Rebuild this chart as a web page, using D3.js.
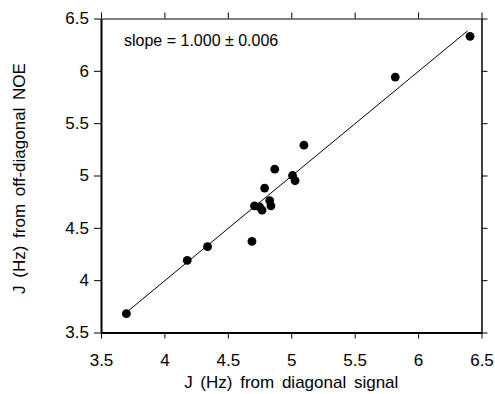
<!DOCTYPE html>
<html><head><meta charset="utf-8">
<script src="https://cdn.jsdelivr.net/npm/d3@7"></script>
<style>body{margin:0;background:#fff}svg{display:block}text{font-family:"Liberation Sans",Arial,sans-serif;fill:#000}</style>
</head><body><svg id="c" width="495" height="394"></svg>
<script>
// Data
const xDiag = [3.70, 4.18, 4.34, 4.69, 4.71, 4.75, 4.77, 4.79, 4.83, 4.84, 4.87, 5.01, 5.03, 5.10, 5.82, 6.41];
const yNoe  = [3.68, 4.19, 4.32, 4.37, 4.71, 4.70, 4.67, 4.88, 4.76, 4.71, 5.06, 5.00, 4.95, 5.29, 5.94, 6.33];
const fitSlope = 1.000, fitIntercept = -0.008;
const fitRange = [3.70, 6.39];
const xTicks = [3.5, 4, 4.5, 5, 5.5, 6, 6.5];
const yTicks = [3.5, 4, 4.5, 5, 5.5, 6, 6.5];
const annotation = "slope = 1.000 \u00b1 0.006";
const xTitle = "J (Hz) from diagonal signal";
const yTitle = "J (Hz) from off-diagonal NOE";

const svg = d3.select("#c");
const L = 101, R = 481.5, T = 18.5, B = 332.5;
const x = d3.scaleLinear().domain([3.5, 6.5]).range([L, R]);
const y = d3.scaleLinear().domain([3.5, 6.5]).range([B, T]);
const fmt = d => String(d);

function styleAxis(g, w) {
  g.select(".domain").attr("stroke", "#000").attr("stroke-width", w);
  g.selectAll(".tick line").attr("stroke", "#000").attr("stroke-width", 1);
  g.selectAll(".tick text").style("font-size", "17px").attr("fill", "#000");
}
svg.append("g").attr("transform", `translate(0,${B})`)
  .call(d3.axisBottom(x).tickValues(xTicks).tickFormat(fmt).tickSize(6).tickSizeOuter(0).tickPadding(15))
  .call(g => styleAxis(g, 2));
svg.append("g").attr("transform", `translate(0,${T})`)
  .call(d3.axisTop(x).tickValues(xTicks).tickFormat("").tickSize(6).tickSizeOuter(0))
  .call(g => styleAxis(g, 1.2));
svg.append("g").attr("transform", `translate(${L},0)`)
  .call(d3.axisLeft(y).tickValues(yTicks).tickFormat(fmt).tickSize(7).tickSizeOuter(0).tickPadding(5))
  .call(g => styleAxis(g, 2));
svg.append("g").attr("transform", `translate(${R},0)`)
  .call(d3.axisRight(y).tickValues(yTicks).tickFormat("").tickSize(6).tickSizeOuter(0))
  .call(g => styleAxis(g, 1.5));

// fit line
svg.append("line")
  .attr("x1", x(fitRange[0])).attr("y1", y(fitSlope * fitRange[0] + fitIntercept))
  .attr("x2", x(fitRange[1])).attr("y2", y(fitSlope * fitRange[1] + fitIntercept))
  .attr("stroke", "#000").attr("stroke-width", 1);

// points
svg.append("g").selectAll("circle").data(xDiag).join("circle")
  .attr("cx", d => x(d)).attr("cy", (d, i) => y(yNoe[i])).attr("r", 4.4).attr("fill", "#000");

svg.append("text").attr("x", 124).attr("y", 46).style("font-size", "16px").text(annotation);
svg.append("text").attr("x", (L + R) / 2).attr("y", 388).attr("text-anchor", "middle")
  .style("font-size", "17px").style("word-spacing", "3px").text(xTitle);
svg.append("text").attr("transform", `translate(25,${(T + B) / 2 + 3}) rotate(-90)`).attr("text-anchor", "middle")
  .style("font-size", "17px").style("word-spacing", "3px").text(yTitle);
</script></body></html>
